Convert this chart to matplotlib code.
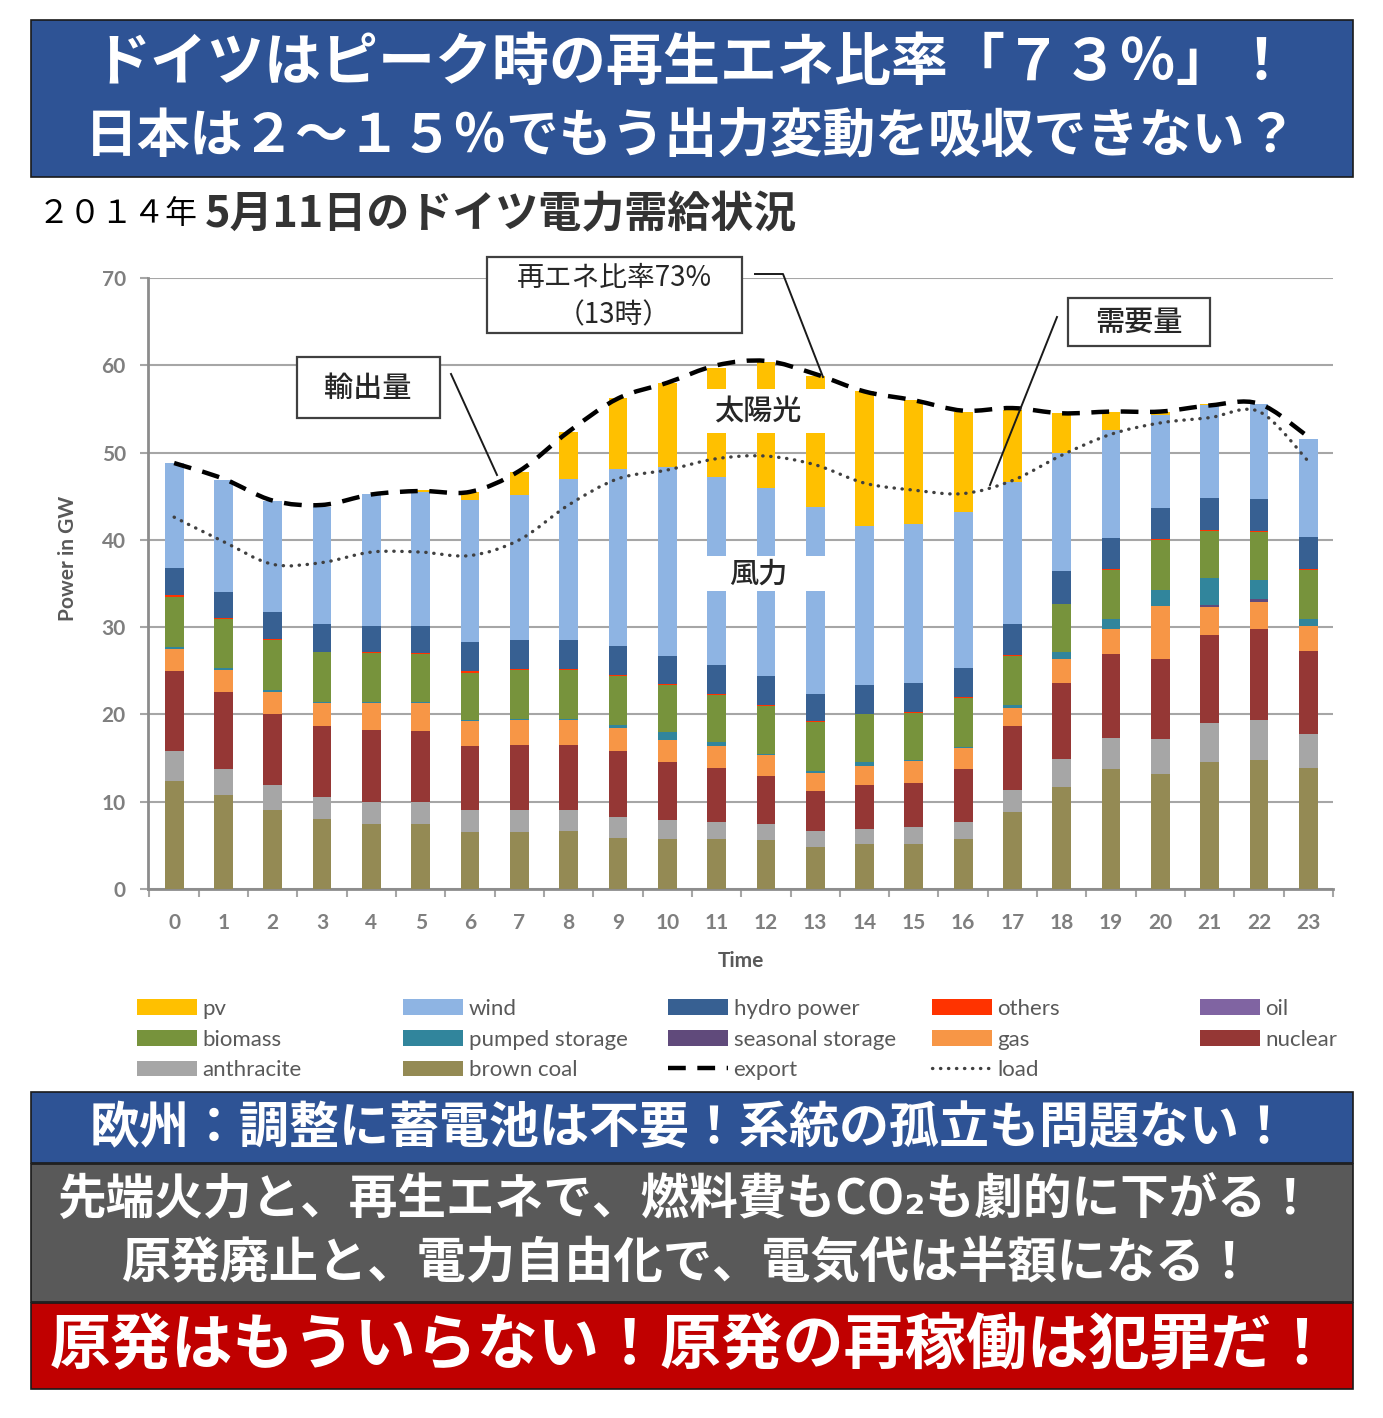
import matplotlib
matplotlib.use("Agg")
import matplotlib.pyplot as plt
import numpy as np
from matplotlib.patches import Rectangle, Patch, PathPatch
from matplotlib.lines import Line2D
from matplotlib.path import Path

plt.rcParams['font.family'] = ['Noto Sans CJK JP', 'DejaVu Sans']

# Dados (GW por hora, 11/05/2014)
horas = list(range(24))
brown_coal = [12.4, 10.8, 9.1, 8.0, 7.5, 7.5, 6.5, 6.5, 6.6, 5.9, 5.7, 5.7,
              5.6, 4.8, 5.1, 5.1, 5.7, 8.8, 11.7, 13.7, 13.2, 14.5, 14.8, 13.9]
anthracite = [3.4, 2.9, 2.8, 2.5, 2.5, 2.5, 2.5, 2.5, 2.5, 2.3, 2.2, 2.0,
              1.9, 1.8, 1.8, 2.0, 2.0, 2.5, 3.2, 3.6, 4.0, 4.5, 4.6, 3.9]
nuclear = [9.2, 8.9, 8.2, 8.2, 8.2, 8.1, 7.4, 7.5, 7.4, 7.6, 6.6, 6.2,
           5.5, 4.6, 5.0, 5.0, 6.0, 7.4, 8.7, 9.6, 9.1, 10.1, 10.4, 9.5]
gas = [2.5, 2.5, 2.5, 2.6, 3.1, 3.2, 2.9, 2.9, 2.9, 2.6, 2.6, 2.5,
       2.4, 2.1, 2.2, 2.6, 2.4, 2.0, 2.7, 2.9, 6.1, 3.2, 3.1, 2.8]
seasonal_storage = [0, 0, 0, 0, 0, 0, 0, 0, 0, 0, 0, 0,
                    0, 0, 0, 0, 0, 0, 0, 0, 0, 0.2, 0.3, 0]
pumped_storage = [0.2, 0.2, 0.2, 0.1, 0.1, 0.1, 0.1, 0.1, 0.1, 0.4, 0.9, 0.4,
                  0.1, 0.2, 0.5, 0.1, 0.2, 0.4, 0.8, 1.1, 1.9, 3.1, 2.2, 0.8]
biomass = [5.8, 5.6, 5.7, 5.7, 5.6, 5.5, 5.3, 5.6, 5.6, 5.6, 5.4, 5.4,
           5.5, 5.6, 5.4, 5.4, 5.6, 5.6, 5.5, 5.7, 5.7, 5.4, 5.5, 5.7]
others = [0.2, 0.1, 0.1, 0.1, 0.1, 0.1, 0.3, 0.1, 0.1, 0.1, 0.1, 0.1,
          0.1, 0.2, 0.1, 0.1, 0.1, 0.1, 0.1, 0.1, 0.1, 0.1, 0.1, 0.1]
hydro = [3.1, 3.0, 3.1, 3.2, 3.0, 3.1, 3.3, 3.3, 3.3, 3.3, 3.2, 3.4,
         3.3, 3.0, 3.3, 3.3, 3.3, 3.6, 3.7, 3.5, 3.5, 3.7, 3.7, 3.6]
wind = [12.0, 12.9, 12.7, 13.4, 15.2, 15.4, 16.3, 16.6, 18.5, 20.3, 21.6, 21.5,
        21.5, 21.5, 18.2, 18.2, 17.9, 16.2, 13.6, 12.4, 10.7, 10.6, 10.9, 11.2]
pv = [0, 0, 0, 0, 0, 0.2, 0.9, 2.7, 5.4, 8.1, 9.7, 12.5,
      14.5, 15.0, 15.4, 14.2, 11.5, 8.3, 4.5, 2.1, 0.3, 0.2, 0, 0]
export = [48.8, 47.0, 44.5, 44.0, 45.2, 45.6, 45.5, 47.9, 52.4, 56.2, 58.0, 60.0,
          60.5, 59.0, 57.0, 56.0, 54.8, 55.1, 54.5, 54.7, 54.7, 55.4, 55.6, 51.8]
load = [42.6, 39.8, 37.2, 37.4, 38.6, 38.6, 38.2, 40.0, 44.0, 47.0, 48.0, 49.3,
        49.6, 48.6, 46.5, 45.7, 45.3, 46.8, 49.7, 52.1, 53.4, 54.0, 54.7, 49.0]

# ordem de empilhamento (de baixo para cima)
series = [
    ("brown coal", brown_coal, "#948A54"),
    ("anthracite", anthracite, "#A6A6A6"),
    ("nuclear", nuclear, "#953735"),
    ("gas", gas, "#F79646"),
    ("seasonal storage", seasonal_storage, "#604A7B"),
    ("pumped storage", pumped_storage, "#31859C"),
    ("biomass", biomass, "#77933C"),
    ("others", others, "#FF3300"),
    ("hydro power", hydro, "#376092"),
    ("wind", wind, "#8EB4E3"),
    ("pv", pv, "#FFC000"),
]
cores = {nome: c for nome, _, c in series}
cores["oil"] = "#8064A2"

W, H = 1383, 1418
fig = plt.figure(figsize=(W / 100, H / 100), dpi=100)


def fx(px):
    return px / W


def fy(py):
    return 1 - py / H


def caixa(x0, y0, x1, y1, face, edge="#1A1A1A", lw=1.2, z=1):
    fig.add_artist(Rectangle((fx(x0), fy(y1)), fx(x1) - fx(x0), fy(y0) - fy(y1),
                             transform=fig.transFigure, facecolor=face,
                             edgecolor=edge, linewidth=lw, zorder=z))


def linha(xs, ys, z=6):
    fig.add_artist(Line2D([fx(v) for v in xs], [fy(v) for v in ys],
                          transform=fig.transFigure, color="#1A1A1A", lw=1.4, zorder=z))


def curva(xs, ys):
    # curva suave que passa pelos pontos (estilo Excel)
    pts = np.column_stack([xs, ys]).astype(float)
    n = len(pts)
    verts, codes = [pts[0]], [Path.MOVETO]
    for i in range(n - 1):
        p0 = pts[i - 1] if i > 0 else pts[i]
        p1, p2 = pts[i], pts[i + 1]
        p3 = pts[i + 2] if i + 2 < n else pts[i + 1]
        verts += [p1 + (p2 - p0) / 6, p2 - (p3 - p1) / 6, p2]
        codes += [Path.CURVE4] * 3
    return Path(verts, codes)


# Gráfico
ax = fig.add_axes([fx(148), fy(889), fx(1333) - fx(148), fy(278) - fy(889)])
base = np.zeros(len(horas))
for nome, vals, cor in series:
    ax.bar(horas, vals, bottom=base, width=0.38, color=cor, zorder=3)
    base += np.array(vals)

ax.add_patch(PathPatch(curva(horas, load), fill=False, edgecolor="#404040", lw=2.4,
                       linestyle=(0, (0.1, 2.3)), capstyle="round", zorder=5))
ax.add_patch(PathPatch(curva(horas, export), fill=False, edgecolor="black", lw=3.2,
                       linestyle=(0, (4, 2.6)), zorder=6))

ax.set_xlim(-0.53, 23.48)
ax.set_ylim(0, 70)
ax.set_yticks(range(0, 71, 10))
ax.set_xticks(horas)
ax.set_xticks(np.arange(-0.5, 24, 1), minor=True)
ax.yaxis.grid(True, color="#A6A6A6", lw=1.5)
ax.set_axisbelow(True)
for s in ("top", "right"):
    ax.spines[s].set_visible(False)
for s in ("left", "bottom"):
    ax.spines[s].set_color("#8C8C8C")
    ax.spines[s].set_linewidth(2)
ax.tick_params(axis="x", which="major", length=0, pad=17, labelsize=15, labelcolor="#7F7F7F")
ax.tick_params(axis="x", which="minor", length=6, width=1.5, color="#A6A6A6")
ax.tick_params(axis="y", length=6, width=1.5, color="#A6A6A6", pad=10, labelsize=15,
               labelcolor="#7F7F7F")
for t in ax.get_xticklabels() + ax.get_yticklabels():
    t.set_fontfamily("Lato")
    t.set_fontweight("bold")

fig.text(fx(741), fy(961), "Time", ha="center", va="center", fontsize=15,
         fontweight="bold", color="#595959", family="Lato")
fig.text(fx(68), fy(558), "Power in GW", ha="center", va="center", rotation=90,
         fontsize=15, fontweight="bold", color="#595959", family="Lato")

# Faixas brancas com rótulos sobre as barras
caixa(683, 389, 833, 433, "white", edge="none", lw=0, z=4)
caixa(683, 556, 833, 591, "white", edge="none", lw=0, z=4)
fig.text(fx(758), fy(412), "太陽光", ha="center", va="center", fontsize=21,
         fontweight="medium", color="#262626", zorder=7)
fig.text(fx(758), fy(574), "風力", ha="center", va="center", fontsize=21,
         fontweight="medium", color="#262626", zorder=7)

# Caixas de anotação
caixa(487, 257, 742, 333, "white", edge="#404040", lw=1.6, z=6)
fig.text(fx(614), fy(278), "再エネ比率73%", ha="center", va="center", fontsize=20,
         color="#262626", zorder=7)
fig.text(fx(614), fy(315), "（13時）", ha="center", va="center", fontsize=20,
         color="#262626", zorder=7)
linha([755, 783, 823], [274, 274, 377])

caixa(1068, 298, 1210, 346, "white", edge="#404040", lw=1.6, z=6)
fig.text(fx(1139), fy(322), "需要量", ha="center", va="center", fontsize=21,
         fontweight="medium", color="#262626", zorder=7)
linha([1057, 990], [317, 485])

caixa(297, 357, 440, 418, "white", edge="#404040", lw=1.6, z=6)
fig.text(fx(368), fy(388), "輸出量", ha="center", va="center", fontsize=21,
         fontweight="medium", color="#262626", zorder=7)
linha([451, 497], [374, 475])

# Legenda em 5 colunas
colunas = [
    (137, ["pv", "biomass", "anthracite"]),
    (403, ["wind", "pumped storage", "brown coal"]),
    (668, ["hydro power", "seasonal storage", "export"]),
    (932, ["others", "gas", "load"]),
    (1200, ["oil", "nuclear"]),
]
for x0, nomes in colunas:
    handles = []
    for nome in nomes:
        if nome == "export":
            handles.append(Line2D([], [], color="black", lw=3.2, linestyle=(0, (4, 2.6))))
        elif nome == "load":
            handles.append(Line2D([], [], color="#404040", lw=2.4, linestyle=(0, (0.1, 2.3)),
                                  dash_capstyle="round"))
        else:
            handles.append(Patch(facecolor=cores[nome]))
    fig.legend(handles, nomes, loc="upper left", bbox_to_anchor=(fx(x0), fy(999)),
               frameon=False, prop={"family": "Lato", "size": 16}, labelcolor="#595959",
               handlelength=2.7, handleheight=0.72, handletextpad=0.25,
               labelspacing=0.48, borderpad=0, borderaxespad=0)

# Título
caixa(31, 20, 1353, 177, "#2E5395")
fig.text(fx(692), fy(63), "ドイツはピーク時の再生エネ比率「７３％」！", ha="center", va="center",
         fontsize=41, fontweight="bold", color="white", zorder=3)
fig.text(fx(692), fy(137), "日本は２～１５％でもう出力変動を吸収できない？", ha="center", va="center",
         fontsize=38, fontweight="bold", color="white", zorder=3)

fig.text(fx(38), fy(214), "２０１４年", ha="left", va="center", fontsize=23, color="black")
fig.text(fx(205), fy(214), "5月11日のドイツ電力需給状況", ha="left", va="center",
         fontsize=31, fontweight="bold", color="#333333")

# Faixas inferiores
caixa(31, 1092, 1353, 1163, "#2E5395")
fig.text(fx(690), fy(1128), "欧州：調整に蓄電池は不要！系統の孤立も問題ない！", ha="center",
         va="center", fontsize=36, fontweight="bold", color="white", zorder=3)
caixa(31, 1164, 1353, 1302, "#595959")
fig.text(fx(686), fy(1200), "先端火力と、再生エネで、燃料費もCO₂も劇的に下がる！", ha="center",
         va="center", fontsize=35, fontweight="bold", color="white", zorder=3)
fig.text(fx(688), fy(1264), "原発廃止と、電力自由化で、電気代は半額になる！", ha="center",
         va="center", fontsize=35.5, fontweight="bold", color="white", zorder=3)
caixa(31, 1303, 1353, 1389, "#C00000")
fig.text(fx(692), fy(1346), "原発はもういらない！原発の再稼働は犯罪だ！", ha="center",
         va="center", fontsize=44, fontweight="bold", color="white", zorder=3)

fig.savefig("out.png", dpi=100)
